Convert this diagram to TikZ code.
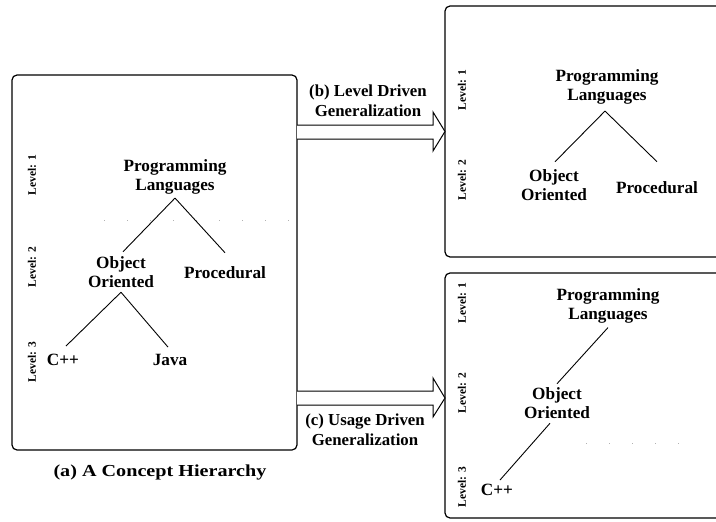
\documentclass[tikz,border=0pt]{standalone}
\usepackage{fontspec}
\setmainfont{Liberation Serif}
\begin{document}
\begin{tikzpicture}[x=1pt,y=-1pt,
  panel/.style={draw,line width=1.2pt,rounded corners=5pt},
  concept/.style={font=\fontsize{17.2}{19}\selectfont\bfseries,align=center,inner sep=2pt},
  levellbl/.style={font=\fontsize{11.5}{13}\selectfont\bfseries,rotate=90,inner sep=0pt},
  caption/.style={font=\fontsize{16.8}{20}\selectfont\bfseries,align=center,inner sep=0pt},
  link/.style={line width=0.9pt},
  bigarrow/.style={draw,line width=1pt,fill=white,line join=miter},
  levelsep/.style={gray!60,line width=0.8pt,dash pattern=on 1pt off 22pt}]
\useasboundingbox (0,0) rectangle (716,522);
\clip (0,0) rectangle (716,522);

% ---- panels ----
\draw[panel] (12,75) rectangle (297,450);
\draw[panel] (445,6) rectangle (740,257);
\draw[panel] (445,273) rectangle (740,518);

% ---- level separators ----
\draw[levelsep] (104,220) -- (290,220);
\draw[levelsep] (586,443) -- (690,443);

% ---- (a) concept hierarchy ----
\node[levellbl] (la1) at (32,175) {Level: 1};
\node[levellbl] (la2) at (32,267) {Level: 2};
\node[levellbl] (la3) at (32,362) {Level: 3};
\node[concept] (pl) at (175,176.5) {Programming\\Languages};
\node[concept] (oo) at (121,272.5) {Object\\Oriented};
\node[concept] (proc) at (225,273) {Procedural};
\node[concept] (cpp) at (63,360) {C++};
\node[concept] (java) at (170,360) {Java};
\draw[link] ([yshift=-2pt]pl.south) -- ([xshift=2pt,yshift=3pt]oo.north);
\draw[link] ([yshift=-2pt]pl.south) -- ([yshift=12pt]proc.north);
\draw[link] ([yshift=-2pt]oo.south) -- ([xshift=3pt,yshift=6pt]cpp.north);
\draw[link] ([yshift=-2pt]oo.south) -- ([xshift=-2pt,yshift=5pt]java.north);
\node[caption] (capa) at (160,472) {\scalebox{1.2}[1]{(a) A Concept Hierarchy}};

% ---- (b) level driven generalization ----
\node[levellbl] (lb1) at (462,90) {Level: 1};
\node[levellbl] (lb2) at (462,180) {Level: 2};
\node[concept] (pl2) at (607,86.5) {Programming\\Languages};
\node[concept] (oo2) at (554,185.5) {Object\\Oriented};
\node[concept] (proc2) at (657,188) {Procedural};
\draw[link] ([xshift=-2pt,yshift=-5pt]pl2.south) -- ([xshift=1pt,yshift=6pt]oo2.north);
\draw[link] ([xshift=-2pt,yshift=-5pt]pl2.south) -- ([yshift=18pt]proc2.north);

% ---- (c) usage driven generalization ----
\node[levellbl] (lc1) at (462,303) {Level: 1};
\node[levellbl] (lc2) at (462,393) {Level: 2};
\node[levellbl] (lc3) at (462,487) {Level: 3};
\node[concept] (pl3) at (608,306) {Programming\\Languages};
\node[concept] (oo3) at (557,403.5) {Object\\Oriented};
\node[concept] (cpp3) at (497,490) {C++};
\draw[link] ([yshift=-2pt]pl3.south) -- ([yshift=2pt]oo3.north);
\draw[link] ([xshift=-7pt,yshift=-2pt]oo3.south) -- ([xshift=3pt,yshift=2pt]cpp3.north);

% ---- transformation arrows ----
\coordinate (tb) at (445,131.5);
\coordinate (tc) at (445,398);
\draw[bigarrow] (297,125) -- (433,125) -- (433,112) -- (tb) -- (433,151) -- (433,139) -- (297,139);
\draw[bigarrow] (297,391) -- (433,391) -- (433,378) -- (tc) -- (433,417) -- (433,405) -- (297,405);
\node[caption] (capb) at (368,101) {(b) Level Driven\\Generalization};
\node[caption] (capc) at (365,429.5) {(c) Usage Driven\\Generalization};
\end{tikzpicture}
\end{document}
